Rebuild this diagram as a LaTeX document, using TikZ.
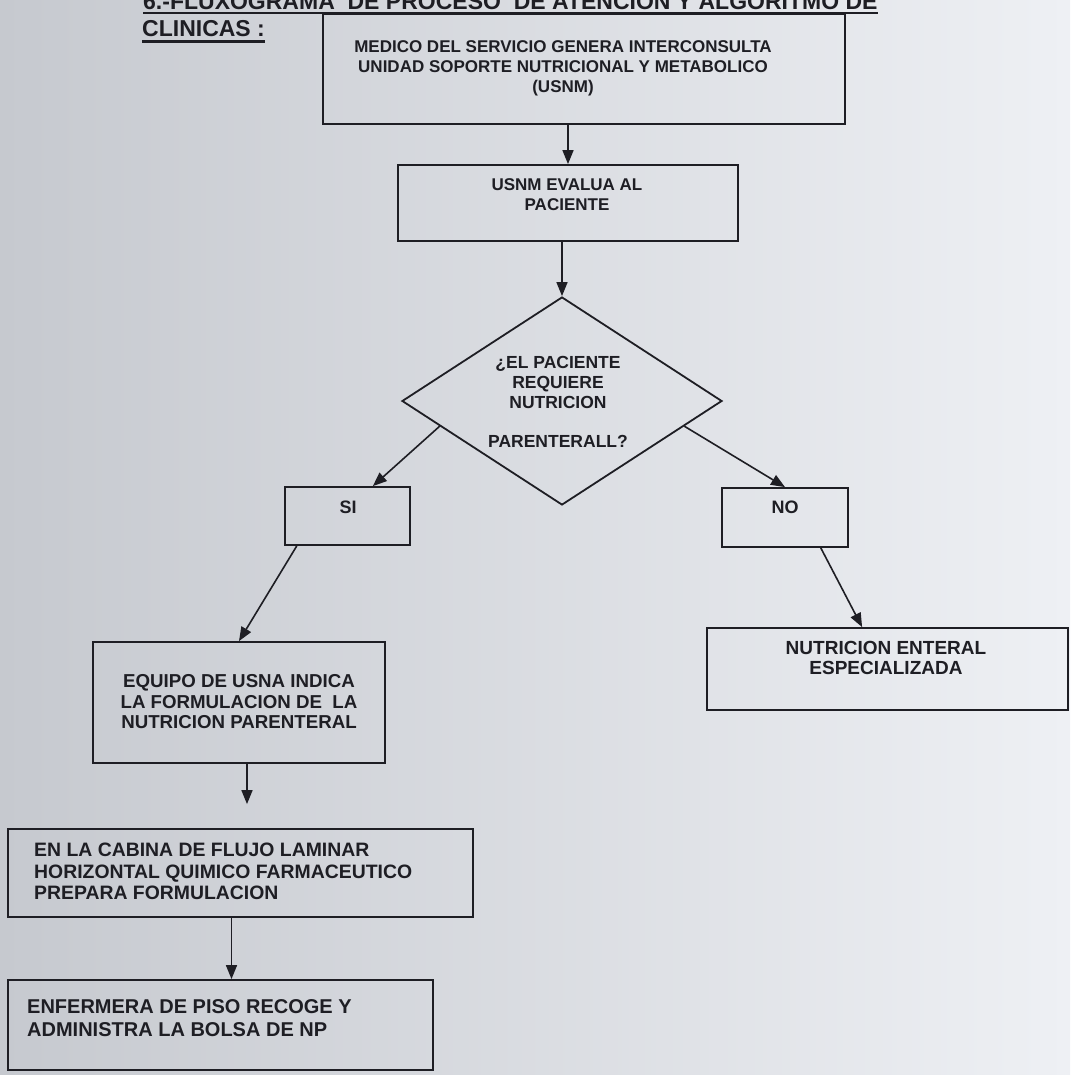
\documentclass[tikz,border=0pt]{standalone}
\usepackage{fontspec}
\setmainfont{Liberation Sans}
\usepackage{tikz}
\usetikzlibrary{positioning,arrows.meta,calc,shapes.geometric}

\definecolor{ink}{RGB}{30,30,36}
\definecolor{paperL}{RGB}{198,201,207}
\definecolor{paperM}{RGB}{224,227,232}
\definecolor{paperR}{RGB}{238,240,244}

\tikzset{
  box/.style={draw=ink, line width=1.8pt, inner sep=0pt},
  txt/.style={text=ink, inner sep=0pt, align=center,
    font=\bfseries\fontsize{17}{20}\selectfont},
  flow/.style={draw=ink, line width=1.6pt, -{Triangle[length=14pt,width=11pt]}},
}

\begin{document}
\begin{tikzpicture}[x=1pt,y=-1pt]

  \clip (0,0) rectangle (1070,1075);
  \shade[left color=paperL, middle color=paperM, right color=paperR] (0,0) rectangle (1070,1075);

  % heading of the page
  \node[txt, anchor=base west, font=\bfseries\fontsize{23}{26}\selectfont] (title) at (143,10)
    {6.-FLUXOGRAMA\ \ DE PROCESO\ \ DE ATENCION Y ALGORITMO DE};
  \node[txt, anchor=base west, font=\bfseries\fontsize{23}{26}\selectfont] (clin) at (142,37) {CLINICAS :};
  \draw[ink, line width=2.2pt] ([yshift=-3pt]title.base west) -- ([yshift=-3pt]title.base east);
  \draw[ink, line width=2.2pt] ([yshift=-4.5pt]clin.base west) -- ([yshift=-4.5pt]clin.base east);

  % boxes
  \node[box, minimum width=522pt, minimum height=110pt] (medico) at (584,69) {};
  \node[box, minimum width=340pt, minimum height=76pt] (usnm) at (568,203) {};
  \node[box, shape=diamond, minimum width=320pt, minimum height=208pt] (dia) at (562,401) {};
  \node[box, minimum width=125pt, minimum height=58pt] (si) at (347.5,516) {};
  \node[box, minimum width=126pt, minimum height=59pt] (no) at (785,517.5) {};
  \node[box, minimum width=292pt, minimum height=121pt] (equipo) at (239,702.5) {};
  \node[box, minimum width=361pt, minimum height=82pt] (enteral) at (887.5,669) {};
  \node[box, minimum width=465pt, minimum height=88pt] (cabina) at (240.5,873) {};
  \node[box, minimum width=425pt, minimum height=90pt] (enfermera) at (220.5,1025) {};

  % texts
  \node[txt] (medico-t) at (563,68)
    {MEDICO DEL SERVICIO GENERA INTERCONSULTA\\UNIDAD SOPORTE NUTRICIONAL Y METABOLICO\\(USNM)};
  \node[txt] (usnm-t) at (567,195) {USNM EVALUA AL\\PACIENTE};
  \node[txt, font=\bfseries\fontsize{17.5}{19.75}\selectfont] (dia-t) at (558,402)
    {¿EL PACIENTE\\REQUIERE\\NUTRICION\\[19.75pt]PARENTERALL?};
  \node[txt, font=\bfseries\fontsize{18}{20}\selectfont] (si-t) at (348,507) {SI};
  \node[txt, font=\bfseries\fontsize{18}{20}\selectfont] (no-t) at (785,507) {NO};
  \node[txt, font=\bfseries\fontsize{18.7}{20.5}\selectfont] (equipo-t) at (239,702)
    {EQUIPO DE USNA INDICA\\LA FORMULACION DE\ \ LA\\NUTRICION PARENTERAL};
  \node[txt, font=\bfseries\fontsize{19}{20}\selectfont] (enteral-t) at (886,658)
    {NUTRICION ENTERAL\\ESPECIALIZADA};
  \node[txt, anchor=west, align=left, font=\bfseries\fontsize{19.4}{21.5}\selectfont] (cabina-t) at (34,871.5)
    {EN LA CABINA DE FLUJO LAMINAR\\HORIZONTAL QUIMICO FARMACEUTICO\\PREPARA FORMULACION};
  \node[txt, anchor=west, align=left, font=\bfseries\fontsize{20}{23}\selectfont] (enfermera-t) at (27,1018.5)
    {ENFERMERA DE PISO RECOGE Y\\ADMINISTRA LA BOLSA DE NP};

  % connectors
  \draw[flow] (medico.south -| usnm) -- (usnm.north);
  \draw[flow] (usnm.south -| dia) -- (dia.north);
  \draw[flow] ($(dia.west)!0.24!(dia.south)$) -- ($(si.north west)!0.7!(si.north east)$);
  \draw[flow] ($(dia.east)!0.24!(dia.south)$) -- (no.north);
  \draw[flow] ($(si.south west)!0.1!(si.south east)$) -- (equipo.north);
  \draw[flow] ($(no.south west)!0.78!(no.south east)$) -- ($(enteral.north west)!0.43!(enteral.north east)$);
  \draw[flow, shorten >=24pt] ([xshift=8pt]equipo.south) -- ([xshift=8pt]equipo.south |- cabina.north);
  \draw[flow] ([xshift=-9pt]cabina.south) -- ([xshift=-9pt]cabina.south |- enfermera.north);

\end{tikzpicture}
\end{document}
